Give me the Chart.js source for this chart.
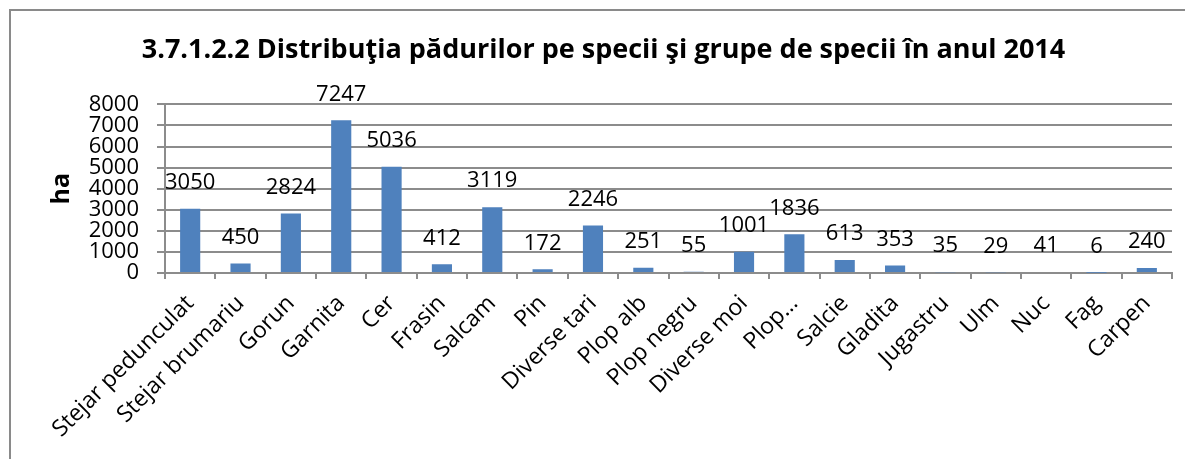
<!DOCTYPE html>
<html>
<head>
<meta charset="utf-8">
<script src="https://cdn.jsdelivr.net/npm/chart.js@4"></script>
<style>
  html, body { margin: 0; padding: 0; background: #fff; overflow: hidden; }
  #cadru {
    position: absolute; left: 9px; top: 9px;
    width: 1300px; height: 600px;
    border: 2px solid #8a8a8a;
  }
  #grafic { position: absolute; left: 0; top: 0; }
</style>
</head>
<body>
<div id="cadru"></div>
<canvas id="grafic" width="1185" height="459"></canvas>
<script>
// Speciile si suprafetele (ha) pentru anul 2014
const specii = ["Stejar pedunculat", "Stejar brumariu", "Gorun", "Garnita", "Cer", "Frasin", "Salcam", "Pin",
  "Diverse tari", "Plop alb", "Plop negru", "Diverse moi", "Plop…", "Salcie", "Gladita", "Jugastru",
  "Ulm", "Nuc", "Fag", "Carpen"];
const suprafete = [3050, 450, 2824, 7247, 5036, 412, 3119, 172, 2246, 251, 55, 1001, 1836, 613, 353, 35, 29, 41, 6, 240];
const titlu = "3.7.1.2.2 Distribuţia pădurilor pe specii şi grupe de specii în anul 2014";

const FONT = "'Open Sans', sans-serif";
const GRI = "#8c8c8c";

// Eticheta cu valoarea deasupra fiecarei coloane
const eticheteValori = {
  id: "eticheteValori",
  afterDatasetsDraw(chart) {
    const ctx = chart.ctx;
    const meta = chart.getDatasetMeta(0);
    ctx.save();
    ctx.font = "22px " + FONT;
    ctx.fillStyle = "#000";
    ctx.textAlign = "center";
    ctx.textBaseline = "middle";
    meta.data.forEach((bara, i) => {
      ctx.fillText(String(suprafete[i]), bara.x, bara.y - 26);
    });
    ctx.restore();
  },
};

new Chart(document.getElementById("grafic").getContext("2d"), {
  type: "bar",
  data: {
    labels: specii,
    datasets: [
      {
        data: suprafete,
        backgroundColor: "#4f81bd",
        barPercentage: 0.4,
        categoryPercentage: 1.0,
      },
    ],
  },
  options: {
    responsive: false,
    animation: false,
    devicePixelRatio: 1,
    layout: { padding: { left: 35, right: 13, top: 0, bottom: 5 } },
    plugins: {
      legend: { display: false },
      tooltip: { enabled: false },
      title: {
        display: true,
        text: titlu,
        color: "#000",
        font: { family: FONT, size: 27, weight: "bold" },
        padding: { top: 34, bottom: 38 },
      },
    },
    scales: {
      x: {
        grid: { display: true, drawOnChartArea: false, offset: true, color: GRI, lineWidth: 2, tickLength: 6 },
        border: { color: GRI, width: 2 },
        ticks: {
          autoSkip: false,
          maxRotation: 45,
          minRotation: 45,
          padding: 11,
          color: "#000",
          font: { family: FONT, size: 23 },
        },
      },
      y: {
        min: 0,
        max: 8000,
        // latime fixa pentru axa, ca zona cu coloane sa inceapa la x = 165
        afterFit: (scala) => { scala.width = 130; },
        grid: { color: GRI, lineWidth: 2, tickLength: 8 },
        border: { color: GRI, width: 2 },
        ticks: {
          stepSize: 1000,
          autoSkip: false,
          padding: 18,
          color: "#000",
          font: { family: FONT, size: 22, lineHeight: 0.9 },
          callback: (v) => String(v),
        },
        title: {
          display: true,
          text: "ha",
          color: "#000",
          font: { family: FONT, size: 25, weight: "bold" },
          padding: 12,
        },
      },
    },
  },
  plugins: [eticheteValori],
});
</script>
</body>
</html>
